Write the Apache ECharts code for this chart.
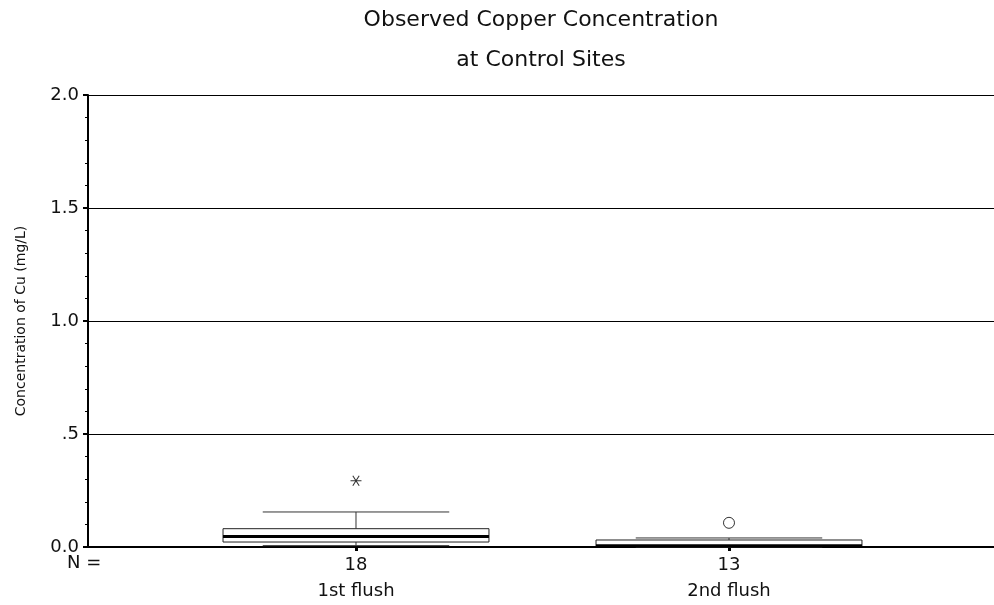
<!DOCTYPE html>
<html>
<head>
<meta charset="utf-8">
<script src="https://cdn.jsdelivr.net/npm/echarts@6/dist/echarts.min.js"></script>
<style>
  html, body { margin: 0; padding: 0; background: #fff; }
  #chart { width: 994px; height: 605px; }
</style>
</head>
<body>
<div id="chart"></div>
<script>
// Copper concentration (mg/L) at control sites, summarised per flush
const categories = ['1st flush', '2nd flush'];
const counts = [18, 13];
const whiskerLow = [0.006, 0.000];
const q1 = [0.022, 0.004];
const median = [0.047, 0.006];
const q3 = [0.081, 0.031];
const whiskerHigh = [0.155, 0.040];
// extreme values (asterisk) and outliers (circle): [group position, value]
const extremes = [[1, 0.293]];
const outliers = [[2, 0.107]];
const yTicks = ['0.0', '.5', '1.0', '1.5', '2.0'];

const FONT = 'DejaVu Sans';
const boxData = categories.map((c, i) => [i + 1, whiskerLow[i], q1[i], median[i], q3[i], whiskerHigh[i]]);

const asterisk = 'path://M-5,0L5,0M-2.9,-5L2.9,5M-2.9,5L2.9,-5';

const chart = echarts.init(document.getElementById('chart'));
chart.setOption({
  animation: false,
  backgroundColor: '#fff',
  title: {
    text: 'Observed Copper Concentration\nat Control Sites',
    left: 541,
    top: 0,
    padding: 0,
    textAlign: 'center',
    textStyle: { fontFamily: FONT, fontSize: 22, fontWeight: 'normal', color: '#111', lineHeight: 40 }
  },
  grid: { left: 88, right: 0, top: 95, bottom: 58, containLabel: false },
  xAxis: {
    type: 'value',
    min: 0.2815,
    max: 2.7105,
    splitLine: { show: false },
    axisLine: { show: true, onZero: false, lineStyle: { color: '#000', width: 2 } },
    axisTick: { show: true, customValues: [1, 2], length: 4, lineStyle: { color: '#000', width: 3 } },
    axisLabel: {
      customValues: [1, 2],
      margin: 5,
      formatter: v => {
        const i = Math.round(v) - 1;
        return '{n|' + counts[i] + '}\n{c|' + categories[i] + '}';
      },
      rich: {
        n: { fontFamily: FONT, fontSize: 18, color: '#111', lineHeight: 26, align: 'center' },
        c: { fontFamily: FONT, fontSize: 18, color: '#111', lineHeight: 26, align: 'center' }
      }
    }
  },
  yAxis: {
    type: 'value',
    min: 0,
    max: 2,
    interval: 0.5,
    name: 'Concentration of Cu (mg/L)',
    nameLocation: 'middle',
    nameGap: 60,
    nameTextStyle: { fontFamily: FONT, fontSize: 14, color: '#111' },
    axisLine: { show: true, lineStyle: { color: '#000', width: 2 } },
    axisTick: { show: true, length: 5, lineStyle: { color: '#000', width: 2 } },
    minorTick: { show: true, splitNumber: 5, length: 3, lineStyle: { color: '#000', width: 1 } },
    splitLine: { show: true, lineStyle: { color: '#000', width: 1 } },
    axisLabel: {
      margin: 9,
      fontFamily: FONT,
      fontSize: 18,
      color: '#111',
      formatter: v => yTicks[Math.round(v * 2)]
    }
  },
  graphic: [{
    type: 'text',
    left: 67,
    top: 554,
    style: { text: 'N =', font: '18px "DejaVu Sans"', fill: '#111' }
  }],
  series: [
    {
      type: 'custom',
      data: boxData,
      encode: { x: 0, y: [1, 2, 3, 4, 5] },
      z: 5,
      renderItem: (params, api) => {
        const x = api.value(0);
        const boxW = api.size([0.713, 0])[0];
        const capW = api.size([0.5, 0])[0];
        const cx = api.coord([x, 0])[0];
        const yLo = api.coord([x, api.value(1)])[1];
        const yQ1 = api.coord([x, api.value(2)])[1];
        const yMed = api.coord([x, api.value(3)])[1];
        const yQ3 = api.coord([x, api.value(4)])[1];
        const yHi = api.coord([x, api.value(5)])[1];
        const line = { stroke: '#333', lineWidth: 1, fill: null };
        return {
          type: 'group',
          children: [
            { type: 'line', shape: { x1: cx, y1: yQ3, x2: cx, y2: yHi }, style: line },
            { type: 'line', shape: { x1: cx, y1: yQ1, x2: cx, y2: yLo }, style: line },
            { type: 'line', shape: { x1: cx - capW / 2, y1: yHi, x2: cx + capW / 2, y2: yHi }, style: line },
            { type: 'line', shape: { x1: cx - capW / 2, y1: yLo, x2: cx + capW / 2, y2: yLo }, style: line },
            { type: 'rect', shape: { x: cx - boxW / 2, y: yQ3, width: boxW, height: yQ1 - yQ3 },
              style: { fill: '#fff', stroke: '#222', lineWidth: 1 } },
            { type: 'line', shape: { x1: cx - boxW / 2, y1: yMed, x2: cx + boxW / 2, y2: yMed },
              style: { stroke: '#000', lineWidth: 3 } }
          ]
        };
      }
    },
    {
      type: 'scatter',
      data: extremes,
      symbol: asterisk,
      symbolSize: [11, 10],
      itemStyle: { color: 'none', borderColor: '#000', borderWidth: 1 },
      z: 6
    },
    {
      type: 'scatter',
      data: outliers,
      symbol: 'circle',
      symbolSize: 11,
      itemStyle: { color: '#fff', borderColor: '#000', borderWidth: 1 },
      z: 6
    }
  ]
});
</script>
</body>
</html>
